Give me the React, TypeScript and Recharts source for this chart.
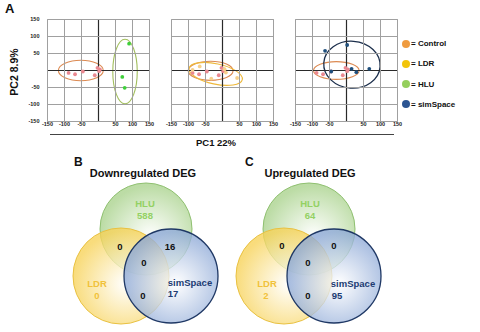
import React from 'react';
import {
  ScatterChart,
  Scatter,
  XAxis,
  YAxis,
  CartesianGrid,
  ReferenceLine,
  ReferenceArea
} from 'recharts';

const font = '"Liberation Sans", Arial, sans-serif';

// PCA scores (PC1, PC2)
const axisTicks = [-150, -100, -50, 0, 50, 100, 150];
const controlPts = [
  { x: -88, y: -7 }, { x: -69, y: -11 }, { x: -46, y: -3 }, { x: -11, y: -14 },
  { x: -3, y: 8 }, { x: 2, y: -2 }, { x: 4, y: 3 }
];
const hluPts = [{ x: 90, y: 79 }, { x: 70, y: -19 }, { x: 77, y: -51 }];
const ldrPts = [
  { x: -88, y: 2 }, { x: -67, y: 12 }, { x: -33, y: -24 },
  { x: 6, y: 4 }, { x: 10, y: -6 }, { x: 43, y: -22 }
];
const simPts = [
  { x: 2, y: 75 }, { x: -63, y: 58 }, { x: -45, y: -3 },
  { x: 15, y: 5 }, { x: 29, y: -5 }, { x: 67, y: 5 }
];

// group ellipses: centre, radii (PC units), tilt
const ellipses1 = [
  { group: 'Control', cx: -52, cy: 0, rx: 66, ry: 30, tilt: 0 },
  { group: 'HLU', cx: 78, cy: -3, rx: 36, ry: 95, tilt: 0 }
];
const ellipses2 = [
  { group: 'Control', cx: -35, cy: -1, rx: 66, ry: 28, tilt: 0 },
  { group: 'LDR', cx: -20, cy: -10, rx: 80, ry: 30, tilt: 12 }
];
const ellipses3 = [
  { group: 'Control', cx: -30, cy: 0, rx: 67, ry: 26, tilt: 0 },
  { group: 'simSpace', cx: 16, cy: 17, rx: 83, ry: 69, tilt: 4 }
];

const legendNames = ['Control', 'LDR', 'HLU', 'simSpace'];

// Venn counts
const setNames = ['HLU', 'LDR', 'simSpace'];
const downOnly = [588, 0, 17];
const upOnly = [64, 2, 95];
// HLU∩LDR, HLU∩simSpace, LDR∩simSpace, all three
const downShared = [0, 16, 0, 0];
const upShared = [0, 0, 0, 0];

const dotColor: Record<string, string> = {
  Control: '#ea8890',
  HLU: '#3fcf3a',
  LDR: '#f6d08c',
  simSpace: '#1f4f7c'
};
const ringColor: Record<string, string> = {
  Control: '#dc8a52',
  HLU: '#a3bf5e',
  LDR: '#eeb93c',
  simSpace: '#1c2f4c'
};
const legendColor: Record<string, string> = {
  Control: '#ef9b3f',
  LDR: '#f2c40a',
  HLU: '#95cf5c',
  simSpace: '#2c5592'
};

const fmt = (v: number) => (v === 0 ? '' : String(v));

const ellipseShape = (stroke: string, tilt: number, width = 1) => (p: any) => {
  const cx = p.x + p.width / 2;
  const cy = p.y + p.height / 2;
  return (
    <ellipse
      cx={cx}
      cy={cy}
      rx={Math.abs(p.width) / 2}
      ry={Math.abs(p.height) / 2}
      fill="none"
      stroke={stroke}
      strokeWidth={width}
      transform={`rotate(${tilt} ${cx} ${cy})`}
    />
  );
};

const dotShape = (color: string) => (p: any) => (
  <circle cx={p.cx} cy={p.cy} r={1.9} fill={color} />
);
const noShape = () => <g />;

const tickStyle = { fontSize: 5.5, fontWeight: 700, fill: '#222', fontFamily: font };

const PLOT = 102;
const gridTicks = axisTicks.filter((t) => t !== 0);
// grid lines as two-point scatter segments, placed by the chart's own scales
const gridSegments = [
  ...gridTicks.map((t) => [{ x: t, y: -150 }, { x: t, y: 150 }]),
  ...gridTicks.map((t) => [{ x: -150, y: t }, { x: 150, y: t }])
];

function PcaPanel({ left, showY, groups, rings }: any) {
  const yW = showY ? 24 : 0;
  const m = { top: 6.5, right: 8, left: showY ? 0.5 : 8.5, bottom: 0.5 };
  const width = m.left + yW + PLOT + m.right;
  return (
    <div style={{ position: 'absolute', left, top: 13 }}>
      <ScatterChart width={width} height={6.5 + PLOT + 12 + 0.5} margin={m}>
        <CartesianGrid stroke="#a8a8a8" />
        <XAxis
          type="number"
          dataKey="x"
          domain={[-150, 150]}
          ticks={axisTicks}
          interval={0}
          tickFormatter={fmt}
          axisLine={false}
          tickLine={false}
          tickSize={0}
          tickMargin={1}
          height={12}
          tick={tickStyle}
        />
        <YAxis
          type="number"
          dataKey="y"
          domain={[-150, 150]}
          ticks={axisTicks}
          interval={0}
          tickFormatter={fmt}
          axisLine={false}
          tickLine={false}
          width={yW}
          hide={!showY}
          tick={tickStyle}
        />
        {gridSegments.map((seg, i) => (
          <Scatter
            key={`grid${i}`}
            data={seg}
            shape={noShape}
            line={{ stroke: '#a0a0a0', strokeWidth: 1 }}
            isAnimationActive={false}
          />
        ))}
        <ReferenceLine x={0} stroke="#2a2a2a" strokeWidth={1.2} />
        <ReferenceLine y={0} stroke="#2a2a2a" strokeWidth={1.2} />
        {rings.map((e: any) => (
          <ReferenceArea
            key={e.group}
            x1={e.cx - e.rx}
            x2={e.cx + e.rx}
            y1={e.cy - e.ry}
            y2={e.cy + e.ry}
            ifOverflow="visible"
            shape={ellipseShape(ringColor[e.group], e.tilt, e.group === 'simSpace' ? 1.3 : 1.1)}
          />
        ))}
        {groups.map((g: any) => (
          <Scatter
            key={g.name}
            data={g.pts}
            shape={dotShape(dotColor[g.name])}
            isAnimationActive={false}
          />
        ))}
      </ScatterChart>
    </div>
  );
}

// Venn layout (chart units)
const vennCircles = [
  { cx: 0, cy: 26, r: 46 },
  { cx: -25, cy: -21, r: 48 },
  { cx: 25, cy: -21, r: 47 }
];
const vennFill = ['#a9d28c', '#f7d257', '#8ba7d6'];
const vennStroke = ['#8fc070', '#e9c141', '#1f3865'];
const vennText = ['#93d163', '#f1c23a', '#203b72'];

const downNamePos = [[-1, 52], [-49, -28], [44, -27]];
const downCountPos = [[-1, 40], [-49, -40], [27, -38]];
const downSharedPos = [[-26, 9], [24, 9], [-3, -40], [-2, -7]];
const upNamePos = [[1, 52], [-42, -28], [44, -28]];
const upCountPos = [[1, 40], [-43, -40], [28, -40]];
const upSharedPos = [[-27, 10], [25, 10], [-1, -40], [-1, -7]];

const textShape = (p: any) => (
  <text
    x={p.cx}
    y={p.cy}
    textAnchor="middle"
    dominantBaseline="central"
    fontFamily={font}
    fontWeight={700}
    fontSize={9.5}
    fill={p.payload.color}
  >
    {p.payload.text}
  </text>
);

function Venn({ id, left, only, shared, namePos, countPos, sharedPos }: any) {
  const labels = [
    ...setNames.map((n, i) => ({ x: namePos[i][0], y: namePos[i][1], text: n, color: vennText[i] })),
    ...only.map((v: number, i: number) => ({ x: countPos[i][0], y: countPos[i][1], text: String(v), color: vennText[i] })),
    ...shared.map((v: number, i: number) => ({ x: sharedPos[i][0], y: sharedPos[i][1], text: String(v), color: '#111' }))
  ];
  return (
    <div style={{ position: 'absolute', left, top: 180 }}>
      <ScatterChart width={150} height={150} margin={{ top: 0, right: 0, left: 0, bottom: 0 }}>
        <defs>
          {vennFill.map((c, i) => (
            <radialGradient key={i} id={`${id}g${i}`} cx="55%" cy="58%" r="55%">
              <stop offset="0%" stopColor="#ffffff" />
              <stop offset="100%" stopColor={c} />
            </radialGradient>
          ))}
        </defs>
        <XAxis type="number" dataKey="x" domain={[-75, 75]} hide />
        <YAxis type="number" dataKey="y" domain={[-75, 75]} hide />
        {vennCircles.map((c, i) => (
          <ReferenceArea
            key={i}
            x1={c.cx - c.r}
            x2={c.cx + c.r}
            y1={c.cy - c.r}
            y2={c.cy + c.r}
            ifOverflow="visible"
            shape={(p: any) => (
              <ellipse
                cx={p.x + p.width / 2}
                cy={p.y + p.height / 2}
                rx={Math.abs(p.width) / 2}
                ry={Math.abs(p.height) / 2}
                fill={`url(#${id}g${i})`}
                fillOpacity={0.78}
                stroke={vennStroke[i]}
                strokeWidth={i === 2 ? 1.3 : 1}
              />
            )}
          />
        ))}
        <Scatter data={labels} shape={textShape} isAnimationActive={false} />
      </ScatterChart>
    </div>
  );
}

const bold = { fontFamily: font, fontWeight: 700, color: '#111', position: 'absolute' as const, whiteSpace: 'nowrap' as const };

export default function App() {
  return (
    <div style={{ position: 'absolute', left: 0, top: 0, width: 480, height: 332, background: '#fff', overflow: 'hidden', fontFamily: font }}>
      <div style={{ ...bold, left: 5, top: 1, fontSize: 13 }}>A</div>
      <div style={{ ...bold, left: 14, top: 72, fontSize: 10.5, transform: 'translate(-50%,-50%) rotate(-90deg)' }}>PC2 8.9%</div>

      <PcaPanel
        left={23}
        showY
        groups={[{ name: 'Control', pts: controlPts }, { name: 'HLU', pts: hluPts }]}
        rings={ellipses1}
      />
      <PcaPanel
        left={163}
        showY={false}
        groups={[{ name: 'Control', pts: controlPts }, { name: 'LDR', pts: ldrPts }]}
        rings={ellipses2}
      />
      <PcaPanel
        left={287}
        showY={false}
        groups={[{ name: 'Control', pts: controlPts }, { name: 'simSpace', pts: simPts }]}
        rings={ellipses3}
      />

      {legendNames.map((n, i) => (
        <div key={n} style={{ ...bold, left: 402, top: 39 + i * 20.3, fontSize: 8, display: 'flex', alignItems: 'center' }}>
          <span style={{ display: 'inline-block', width: 8, height: 8, borderRadius: 4, background: legendColor[n], marginRight: 1 }} />
          = {n}
        </div>
      ))}

      <div style={{ position: 'absolute', left: 50, top: 134, width: 344, height: 1, background: '#444' }} />
      <div style={{ ...bold, left: 216, top: 142, fontSize: 9.5, transform: 'translate(-50%,-50%)' }}>PC1 22%</div>

      <div style={{ ...bold, left: 74, top: 155, fontSize: 12 }}>B</div>
      <div style={{ ...bold, left: 143, top: 173, fontSize: 11, transform: 'translate(-50%,-50%)' }}>Downregulated DEG</div>
      <div style={{ ...bold, left: 245, top: 155, fontSize: 12 }}>C</div>
      <div style={{ ...bold, left: 310, top: 173, fontSize: 11, transform: 'translate(-50%,-50%)' }}>Upregulated DEG</div>

      <Venn id="down" left={71} only={downOnly} shared={downShared} namePos={downNamePos} countPos={downCountPos} sharedPos={downSharedPos} />
      <Venn id="up" left={234} only={upOnly} shared={upShared} namePos={upNamePos} countPos={upCountPos} sharedPos={upSharedPos} />
    </div>
  );
}
